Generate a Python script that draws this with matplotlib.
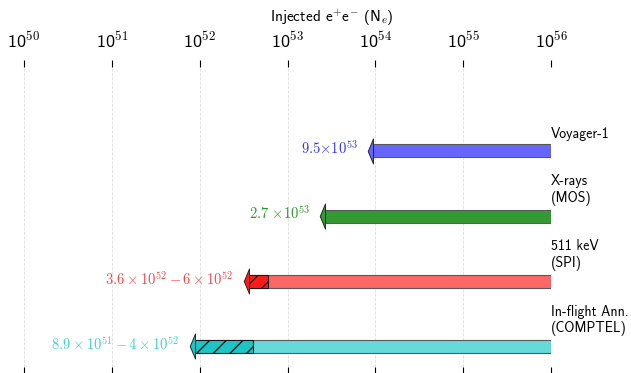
import os
import matplotlib
matplotlib.use("Agg")
import matplotlib.pyplot as plt
from matplotlib import font_manager
from matplotlib.path import Path
import numpy as np

# register Computer Modern Sans shipped with matplotlib
ttf_dir = os.path.join(matplotlib.get_data_path(), "fonts", "ttf")
cmss = os.path.join(ttf_dir, "cmss10.ttf")
if os.path.exists(cmss):
    font_manager.fontManager.addfont(cmss)
plt.rcParams['font.family'] = ['cmss10', 'DejaVu Sans']
plt.rcParams['mathtext.fontset'] = 'cm'
plt.rcParams['axes.unicode_minus'] = False

# ---------------- data ----------------
names = ["Voyager-1", "X-rays\n(MOS)", "511 keV\n(SPI)", "In-flight Ann.\n(COMPTEL)"]
lower = [9.5e53, 2.7e53, 3.6e52, 8.9e51]          # arrow end (lowest value)
upper_range = [None, None, 6e52, 4e52]            # upper end of range (hatched)
value_labels = [r"$9.5{\times}10^{53}$", r"$2.7\ {\times}10^{53}$",
                r"$3.6\times10^{52}-6\times10^{52}$",
                r"$8.9\times10^{51}-4\times10^{52}$"]
body_colors = ["#6666ff", "#339933", "#ff6666", "#66d9d9"]
head_colors = ["#6666ff", "#339933", "#ff1a1a", "#1ac6c6"]
text_colors = ["#3333ff", "#2a9a2a", "#ff4444", "#40d0d0"]
x_max = 1e56
tick_exps = [50, 51, 52, 53, 54, 55, 56]
ypos = [3, 2, 1, 0]

fig = plt.figure(figsize=(6.31, 3.73), dpi=100)
ax = fig.add_axes([24/631, 1-367/373, (551-24)/631, 300/373])
ax.set_xscale('log')
ax.set_xlim(1e50, 1e56)
ax.set_ylim(-0.32, 4.29)

bar_h = 0.2
# left-pointing arrow head marker, base at x=0
head = Path([(0, 1), (-0.42, 0), (0, -1), (0, 1)],
            [Path.MOVETO, Path.LINETO, Path.LINETO, Path.CLOSEPOLY])

for i in range(4):
    y = ypos[i]
    lo = lower[i]
    ax.barh(y, x_max - lo, left=lo, height=bar_h, color=body_colors[i],
            edgecolor='0.35', linewidth=0.8, zorder=3)
    if upper_range[i] is not None:
        ax.barh(y, upper_range[i] - lo, left=lo, height=bar_h, color=head_colors[i],
                edgecolor='0.1', linewidth=0.8, hatch='//', zorder=4)
    ax.plot([lo], [y], marker=head, markersize=18, linestyle='none',
            markerfacecolor=head_colors[i],
            markeredgecolor='0.15', markeredgewidth=0.7, zorder=5, clip_on=False)
    ax.annotate(value_labels[i], xy=(lo, y), xytext=(-11, 2), textcoords='offset points',
                ha='right', va='center', color=text_colors[i], fontsize=10.5)
    ax.text(x_max, y + 0.16, names[i], ha='left', va='bottom', fontsize=10,
            color='black', linespacing=1.2)

ax.set_xticks([10.0**e for e in tick_exps])
ax.set_xticklabels([r"10$^{%d}$" % e for e in tick_exps])
ax.xaxis.set_minor_locator(matplotlib.ticker.NullLocator())
ax.tick_params(axis='x', which='major', top=True, bottom=True, labeltop=True,
               labelbottom=False, direction='out', length=5, width=0.8,
               labelsize=13, pad=7)
ax.set_yticks([])
for s in ax.spines.values():
    s.set_visible(False)
ax.grid(True, axis='x', linestyle='--', color='#dddddd', linewidth=0.6, zorder=0)

fig.text(332/631, 1-18/373, r"Injected e$^{+}$e$^{-}$ (N$_{e}$)", ha='center',
         va='center', fontsize=11)

fig.savefig("out.png", dpi=100)
